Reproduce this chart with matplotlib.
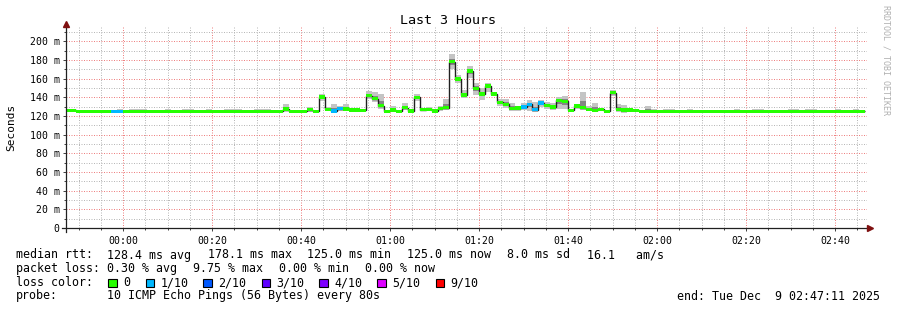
"""SmokePing latency graph (Last 3 Hours) redrawn with matplotlib."""

import matplotlib
matplotlib.use("Agg")
import matplotlib.pyplot as plt
import matplotlib.dates as mdates
from matplotlib.patches import Rectangle
from matplotlib.ticker import MultipleLocator, FuncFormatter
import numpy as np
import pandas as pd

# --- data -------------------------------------------------------------
# one sample every 80 s, median rtt in ms
first_sample = "2025-12-08 23:46:40"
step_s = 80

median_ms = [
    126.0, 126.0, 125.0, 125.0, 125.0, 125.0, 125.0, 125.0, 125.0, 125.0,
    125.0, 125.0, 125.0, 125.0, 125.0, 125.0, 125.0, 125.0, 125.0, 125.0,
    125.0, 125.0, 125.0, 125.0, 125.0, 125.0, 125.0, 125.0, 125.0, 125.0,
    125.0, 125.0, 125.0, 125.0, 125.0, 125.0, 125.0, 127.3, 125.0, 125.0,
    125.0, 126.6, 125.0, 140.2, 127.0, 125.5, 128.0, 127.6, 126.5, 126.5,
    126.0, 141.6, 138.4, 131.2, 125.0, 126.5, 125.0, 129.0, 125.4, 140.0,
    126.8, 127.0, 125.4, 128.2, 129.0, 178.1, 159.6, 142.5, 168.2, 149.6,
    143.6, 152.0, 143.6, 134.6, 132.5, 128.2, 128.5, 129.5, 132.5, 126.8,
    134.0, 131.4, 129.5, 136.8, 135.7, 126.0, 130.7, 129.0, 127.0, 126.0,
    127.0, 125.0, 145.0, 127.0, 126.5, 126.5, 126.0, 125.0, 125.0, 125.0,
    125.0, 125.0, 125.0, 125.0, 125.0, 125.0, 125.0, 125.0, 125.0, 125.0,
    125.0, 125.0, 125.0, 125.0, 125.0, 125.0, 125.0, 125.0, 125.0, 125.0,
    125.0, 125.0, 125.0, 125.0, 125.0, 125.0, 125.0, 125.0, 125.0, 125.0,
    125.0, 125.0, 125.0, 125.0, 125.0,
]

# lost pings out of 10 per sample
lost_pings = [
    0, 0, 0, 0, 0, 0, 0, 0, 1, 1,
    0, 0, 0, 0, 0, 0, 0, 0, 0, 0,
    0, 0, 0, 0, 0, 0, 0, 0, 0, 0,
    0, 0, 0, 0, 0, 0, 0, 0, 0, 0,
    0, 0, 0, 0, 0, 1, 1, 0, 0, 0,
    0, 0, 0, 0, 0, 0, 0, 0, 0, 0,
    0, 0, 0, 0, 0, 0, 0, 0, 0, 0,
    0, 0, 0, 0, 0, 0, 0, 1, 1, 1,
    1, 0, 0, 0, 0, 0, 0, 0, 0, 0,
    0, 0, 0, 0, 0, 0, 0, 0, 0, 0,
    0, 0, 0, 0, 0, 0, 0, 0, 0, 0,
    0, 0, 0, 0, 0, 0, 0, 0, 0, 0,
    0, 0, 0, 0, 0, 0, 0, 0, 0, 0,
    0, 0, 0, 0, 0,
]

# smoke: fastest / slowest ping of each sample
smoke_lo = [
    126.0, 126.0, 125.0, 125.0, 125.0, 125.0, 125.0, 125.0, 125.0, 125.0,
    125.0, 125.0, 125.0, 125.0, 125.0, 125.0, 125.0, 125.0, 125.0, 125.0,
    125.0, 125.0, 125.0, 125.0, 125.0, 125.0, 125.0, 125.0, 125.0, 125.0,
    125.0, 125.0, 125.0, 125.0, 125.0, 125.0, 125.0, 124.0, 125.0, 125.0,
    125.0, 124.5, 125.0, 136.0, 125.0, 124.0, 125.0, 125.0, 125.0, 125.0,
    125.0, 138.0, 135.0, 127.0, 124.0, 125.0, 125.0, 126.0, 124.0, 136.0,
    125.0, 125.0, 124.0, 125.0, 126.0, 170.0, 155.0, 139.0, 161.0, 142.0,
    137.0, 146.0, 141.0, 131.0, 129.0, 125.0, 125.0, 126.0, 125.0, 124.0,
    130.0, 128.0, 126.0, 128.0, 127.0, 125.0, 128.0, 126.0, 125.0, 125.0,
    125.0, 124.0, 141.0, 124.0, 123.0, 125.0, 125.0, 125.0, 125.0, 125.0,
    125.0, 125.0, 125.0, 125.0, 125.0, 125.0, 125.0, 125.0, 125.0, 125.0,
    125.0, 125.0, 125.0, 125.0, 125.0, 125.0, 125.0, 125.0, 125.0, 125.0,
    125.0, 125.0, 125.0, 125.0, 125.0, 125.0, 125.0, 125.0, 125.0, 125.0,
    125.0, 125.0, 125.0, 125.0, 125.0,
]
smoke_hi = [
    126.0, 126.0, 125.0, 125.0, 125.0, 125.0, 125.0, 125.0, 125.0, 128.0,
    125.0, 128.0, 128.0, 128.0, 125.0, 125.0, 125.0, 128.0, 125.0, 125.0,
    128.0, 128.0, 125.0, 125.0, 128.0, 125.0, 125.0, 128.0, 128.0, 128.0,
    125.0, 125.0, 128.0, 128.0, 128.0, 125.0, 125.0, 133.0, 125.0, 125.0,
    125.0, 130.0, 125.0, 144.0, 130.0, 132.7, 131.0, 133.0, 127.0, 127.0,
    127.0, 147.0, 146.0, 143.0, 125.0, 131.0, 126.0, 134.0, 128.0, 144.0,
    128.0, 130.0, 126.0, 131.0, 138.0, 186.0, 164.0, 148.0, 173.0, 155.0,
    150.0, 155.0, 146.0, 138.0, 138.0, 134.0, 131.0, 134.0, 137.0, 135.0,
    137.0, 135.0, 134.0, 140.0, 141.0, 127.0, 133.0, 146.0, 131.0, 134.0,
    128.0, 126.0, 148.0, 133.0, 132.0, 128.0, 127.0, 125.0, 130.7, 128.0,
    125.0, 128.0, 128.0, 125.0, 125.0, 128.0, 125.0, 125.0, 125.0, 125.0,
    125.0, 125.0, 125.0, 128.0, 125.0, 125.0, 128.0, 128.0, 125.0, 125.0,
    125.0, 125.0, 128.0, 128.0, 125.0, 128.0, 128.0, 125.0, 125.0, 125.0,
    128.0, 125.0, 125.0, 128.0, 125.0,
]

loss_labels = ["0", "1/10", "2/10", "3/10", "4/10", "5/10", "9/10"]
loss_colors = ["#26ff00", "#00b8ff", "#0059ff", "#5e00ff", "#7e00ff", "#dd00ff", "#ff0000"]

stats_rtt = ["128.4 ms avg", "178.1 ms max", "125.0 ms min", "125.0 ms now",
             "8.0 ms sd", "16.1   am/s"]
stats_loss = ["0.30 % avg", "9.75 % max", "0.00 % min", "0.00 % now"]
probe_text = "10 ICMP Echo Pings (56 Bytes) every 80s"
end_text = "end: Tue Dec  9 02:47:11 2025"

# --- figure -----------------------------------------------------------
W, H = 897, 310
MONO = "DejaVu Sans Mono"
plt.rcParams.update({"font.family": MONO, "font.size": 8})

fig = plt.figure(figsize=(W / 100, H / 100), dpi=100)
fig.patch.set_facecolor("white")


def px(x, y):
    """pixel (from top-left) -> figure fraction"""
    return x / W, 1 - y / H


ax = fig.add_axes([66 / W, (H - 228) / H, 801 / W, 201 / H])
ax.set_facecolor("white")

times = pd.date_range(first_sample, periods=len(median_ms), freq=f"{step_s}s")
x0 = mdates.date2num(times.to_pydatetime())
width = step_s / 86400.0
edges = np.append(x0, x0[-1] + width)

med = np.array(median_ms)
lo = np.array(smoke_lo)
hi = np.array(smoke_hi)

# smoke (outer light, inner darker)
ax.bar(x0, hi - lo, bottom=lo, width=width, align="edge",
       color="#c4c4c4", linewidth=0, zorder=2)
in_lo = med - 0.4 * (med - lo)
in_hi = med + 0.4 * (hi - med)
ax.bar(x0, in_hi - in_lo, bottom=in_lo, width=width, align="edge",
       color="#858585", linewidth=0, zorder=2.1)

# median line + loss coloured band
ax.stairs(med, edges, baseline=None, color="#202020", linewidth=1.0, zorder=3)
sw = 1.8
band_colors = []
for n in lost_pings:
    idx = {0: 0, 1: 1, 2: 2, 3: 3, 4: 4, 5: 5}.get(n, 6)
    band_colors.append(loss_colors[idx])
ax.bar(x0, 2 * sw, bottom=med - sw, width=width, align="edge",
       color=band_colors, linewidth=0, zorder=4)

# axes limits / ticks
start = mdates.date2num(pd.Timestamp("2025-12-08 23:47:11").to_pydatetime())
end = mdates.date2num(pd.Timestamp("2025-12-09 02:47:11").to_pydatetime())
ax.set_xlim(start, end)
ax.set_ylim(0, 215.3)

ax.xaxis.set_major_locator(mdates.MinuteLocator(byminute=[0, 20, 40]))
ax.xaxis.set_minor_locator(mdates.MinuteLocator(byminute=range(0, 60, 5)))
ax.xaxis.set_major_formatter(mdates.DateFormatter("%H:%M"))
ax.yaxis.set_major_locator(MultipleLocator(20))
ax.yaxis.set_minor_locator(MultipleLocator(10))
ax.yaxis.set_major_formatter(FuncFormatter(lambda v, p: "0" if v == 0 else f"{v:.0f} m"))

ax.grid(which="minor", color="#b8b8b8", linestyle=(0, (1, 1.5)), linewidth=0.72, zorder=0)
ax.grid(which="major", color="#ee8080", linestyle=(0, (1, 1.5)), linewidth=0.72, zorder=0)
ax.set_axisbelow(True)

ax.tick_params(which="major", direction="out", length=2.5, width=0.7, color="#404040",
               labelsize=7.1, pad=2)
ax.tick_params(which="minor", direction="out", length=1.5, width=0.7, color="#404040")
ax.tick_params(axis="x", which="major", pad=3)
for s in ax.spines.values():
    s.set_visible(False)

# axis lines with arrows
ax.plot([-4 / 801, 1 + 3 / 801], [0, 0], transform=ax.transAxes, color="#202020",
        linewidth=0.9, clip_on=False, zorder=5)
ax.plot([0, 0], [-4 / 201, 1 + 3 / 201], transform=ax.transAxes, color="#202020",
        linewidth=0.9, clip_on=False, zorder=5)
ax.plot([0], [1 + 3 / 201], marker="^", markersize=4, color="#7f1010",
        transform=ax.transAxes, clip_on=False, zorder=6)
ax.plot([1 + 3 / 801], [0], marker=">", markersize=4, color="#7f1010",
        transform=ax.transAxes, clip_on=False, zorder=6)

# titles
fig.text(*px(448, 20), "Last 3 Hours", ha="center", va="center", fontsize=9.6)
fig.text(*px(11, 127), "Seconds", ha="center", va="center", rotation=90, fontsize=8)
fig.text(*px(886, 60), "RRDTOOL / TOBI OETIKER", ha="center", va="center",
         rotation=270, fontsize=6, color="#b0b0b0")

# legend block
leg_fs = 8.4
row_y = [255, 268.5, 282.5, 296]
fig.text(*px(16, row_y[0]), "median rtt:", ha="left", va="center", fontsize=leg_fs)
for xx, s in zip([107, 208, 307, 407, 507, 587], stats_rtt):
    fig.text(*px(xx, row_y[0]), s, ha="left", va="center", fontsize=leg_fs)

fig.text(*px(16, row_y[1]), "packet loss:", ha="left", va="center", fontsize=leg_fs)
for xx, s in zip([107, 193, 279, 365], stats_loss):
    fig.text(*px(xx, row_y[1]), s, ha="left", va="center", fontsize=leg_fs)

fig.text(*px(16, row_y[2]), "loss color:", ha="left", va="center", fontsize=leg_fs)
for xx, lab, col in zip([108, 145.5, 203, 261.5, 319, 377, 435.5], loss_labels, loss_colors):
    fx, fy = px(xx, row_y[2] + 4.5)
    fig.patches.append(Rectangle((fx, fy), 8.5 / W, 8.5 / H, transform=fig.transFigure,
                                 facecolor=col, edgecolor="black", linewidth=0.8))
    fig.text(*px(xx + 15, row_y[2]), lab, ha="left", va="center", fontsize=leg_fs)

fig.text(*px(16, row_y[3]), "probe:", ha="left", va="center", fontsize=leg_fs)
fig.text(*px(107, row_y[3]), probe_text, ha="left", va="center", fontsize=leg_fs)
fig.text(*px(880, row_y[3]), end_text, ha="right", va="center", fontsize=leg_fs)

fig.savefig("out.png", dpi=100, facecolor="white")
plt.close(fig)
